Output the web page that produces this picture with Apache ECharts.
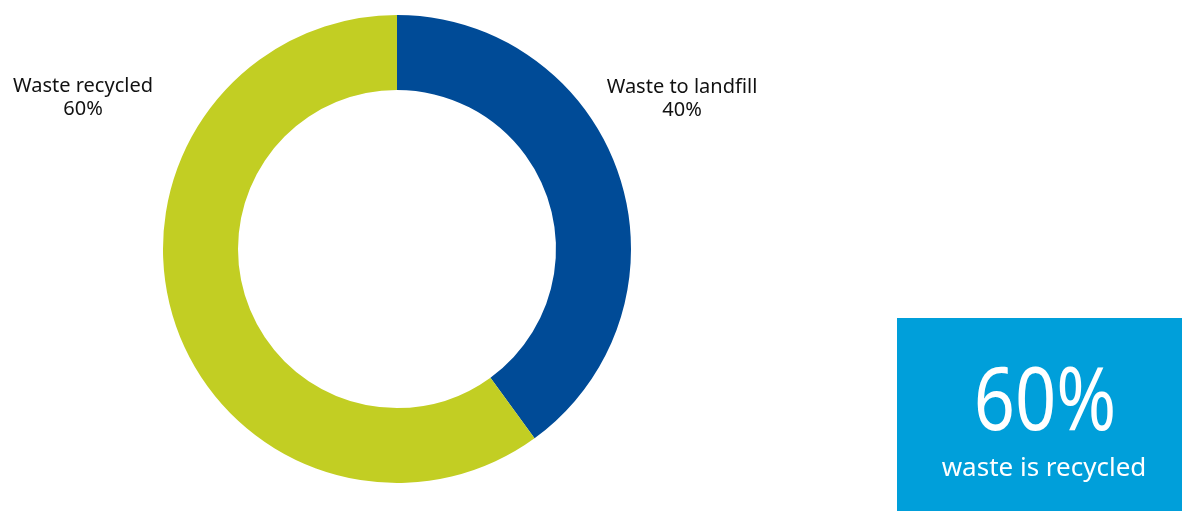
<!DOCTYPE html>
<html>
<head>
<meta charset="utf-8">
<script src="https://cdn.jsdelivr.net/npm/echarts@6/dist/echarts.min.js"></script>
<style>
  html, body { margin: 0; padding: 0; background: #ffffff; }
  #chart { width: 1182px; height: 511px; }
</style>
</head>
<body>
<div id="chart"></div>
<script>
// Waste destination shares (percent)
const categories = ['Waste to landfill', 'Waste recycled'];
const shares = [40, 60];
const sliceColors = ['#004B97', '#C2CE23'];
const highlightCaption = 'waste is recycled';

const FONT = '"Noto Sans", sans-serif';

const chart = echarts.init(document.getElementById('chart'), null, { renderer: 'canvas' });

const recycledShare = shares[categories.indexOf('Waste recycled')];

// label anchor points for each slice (text centre, top line)
const labelAnchors = {
  'Waste to landfill': { x: 682, y: 76 },
  'Waste recycled': { x: 83, y: 75 }
};

chart.setOption({
  animation: false,
  backgroundColor: '#ffffff',
  series: [{
    type: 'pie',
    center: [397, 249],
    radius: [159, 234],
    startAngle: 90,
    clockwise: true,
    silent: true,
    data: categories.map((name, i) => ({
      name: name,
      value: shares[i],
      itemStyle: { color: sliceColors[i] }
    })),
    label: {
      show: true,
      position: 'outside',
      formatter: '{b}\n{c}%',
      color: '#111111',
      fontFamily: FONT,
      fontSize: 20,
      lineHeight: 23,
      align: 'center',
      overflow: 'none',
      width: 240
    },
    labelLine: { show: false },
    labelLayout: function (params) {
      const a = labelAnchors[categories[params.dataIndex]];
      return { x: a.x, y: a.y, align: 'center', verticalAlign: 'top' };
    }
  }],
  graphic: [
    {
      type: 'rect',
      shape: { x: 897, y: 318, width: 285, height: 193 },
      style: { fill: '#009FDA' },
      silent: true
    },
    {
      type: 'text',
      x: 1045,
      y: 405,
      scaleX: 0.82,
      style: {
        text: recycledShare + '%',
        fill: '#ffffff',
        font: '88px ' + FONT,
        textAlign: 'center',
        textVerticalAlign: 'middle'
      },
      silent: true
    },
    {
      type: 'text',
      x: 1044,
      y: 469,
      style: {
        text: highlightCaption,
        fill: '#ffffff',
        font: '26px ' + FONT,
        textAlign: 'center',
        textVerticalAlign: 'middle'
      },
      silent: true
    }
  ]
});
</script>
</body>
</html>
